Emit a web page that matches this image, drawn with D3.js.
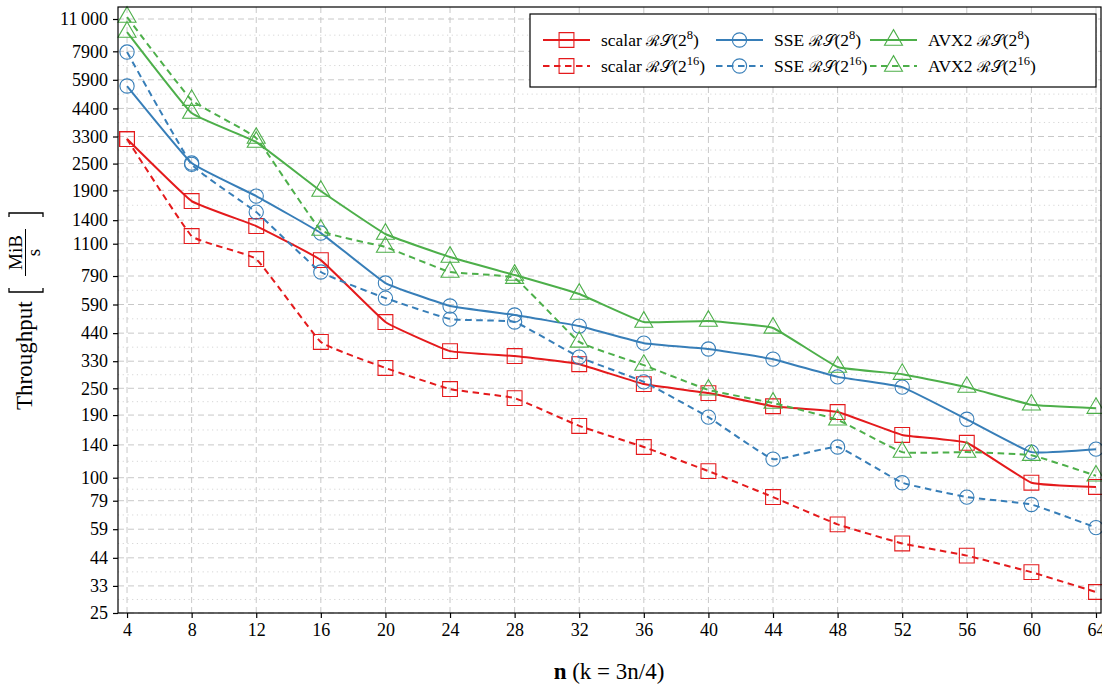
<!DOCTYPE html>
<html>
<head>
<meta charset="utf-8">
<script src="https://cdn.jsdelivr.net/npm/d3@7"></script>
<style>
  body { margin: 0; background: #fff; }
  svg { display: block; }
  text { font-family: "Liberation Serif", "DejaVu Serif", serif; fill: #000; }
</style>
</head>
<body>
<div id="wrapper"></div>
<script>
// data (MiB/s)
const nValues = [4, 8, 12, 16, 20, 24, 28, 32, 36, 40, 44, 48, 52, 56, 60, 64];
const scalarRS8  = [3215, 1703, 1318, 930, 493, 366, 348, 320, 261, 238, 208, 196, 155, 143, 95, 91];
const scalarRS16 = [3215, 1190, 940, 402, 308, 248, 226, 170, 137, 107, 82, 62, 51, 45, 38, 31];
const sseRS8     = [5535, 2514, 1792, 1227, 735, 581, 530, 473, 397, 374, 337, 281, 253, 182, 130, 134];
const sseRS16    = [7840, 2480, 1521, 823, 630, 508, 493, 344, 267, 186, 121, 137, 95, 82, 76, 60];
const avx2RS8    = [9620, 4195, 3117, 1887, 1215, 960, 798, 657, 493, 498, 464, 311, 289, 253, 211, 204];
const avx2RS16   = [11220, 4790, 3246, 1265, 1063, 823, 773, 402, 317, 246, 215, 181, 130, 130, 126, 102];

const yTicks = [25, 33, 44, 59, 79, 100, 140, 190, 250, 330, 440, 590, 790, 1100, 1400, 1900, 2500, 3300, 4400, 5900, 7900, 11000];
const xTicks = nValues;

const series = [
    {name: "scalar", exp: "8",  values: scalarRS8,  color: "#e41a1c", dashed: false, mark: "square"},
    {name: "SSE",    exp: "8",  values: sseRS8,     color: "#377eb8", dashed: false, mark: "circle"},
    {name: "AVX2",   exp: "8",  values: avx2RS8,    color: "#4daf4a", dashed: false, mark: "triangle"},
    {name: "scalar", exp: "16", values: scalarRS16, color: "#e41a1c", dashed: true,  mark: "square"},
    {name: "SSE",    exp: "16", values: sseRS16,    color: "#377eb8", dashed: true,  mark: "circle"},
    {name: "AVX2",   exp: "16", values: avx2RS16,   color: "#4daf4a", dashed: true,  mark: "triangle"}
];

const width = 1102, height = 686;
const plot = {left: 118, right: 1101, top: 7, bottom: 613};

const svg = d3.select("#wrapper").append("svg")
    .attr("width", width)
    .attr("height", height);

const xScale = d3.scaleLinear()
    .domain([3.44, 64.31])
    .range([plot.left, plot.right]);
const yScale = d3.scaleLog()
    .domain([25, 12440])
    .range([plot.bottom, plot.top]);

// grid: minor dotted lines at geometric midpoints, major dashed
const minorY = d3.pairs(yTicks).map(([a, b]) => Math.sqrt(a * b));
const grid = svg.append("g");
grid.selectAll(".minor").data(minorY).join("line")
    .attr("x1", plot.left).attr("x2", plot.right)
    .attr("y1", d => yScale(d)).attr("y2", d => yScale(d))
    .attr("stroke", "#d6d6d6").attr("stroke-width", 1)
    .attr("stroke-dasharray", "1.2,3.5");
grid.selectAll(".hmajor").data(yTicks).join("line")
    .attr("x1", plot.left).attr("x2", plot.right)
    .attr("y1", d => yScale(d)).attr("y2", d => yScale(d))
    .attr("stroke", "#c8c8c8").attr("stroke-width", 1)
    .attr("stroke-dasharray", "6,4");
grid.selectAll(".vmajor").data(xTicks).join("line")
    .attr("x1", d => xScale(d)).attr("x2", d => xScale(d))
    .attr("y1", plot.top).attr("y2", plot.bottom)
    .attr("stroke", "#c8c8c8").attr("stroke-width", 1)
    .attr("stroke-dasharray", "6,4");

// lines
const lineGenerator = d3.line()
    .x((d, i) => xScale(nValues[i]))
    .y(d => yScale(d))
    .curve(d3.curveCardinal.tension(0.7));

const symbolFor = {
    square: d3.symbol().type(d3.symbolSquare).size(220),
    circle: d3.symbol().type(d3.symbolCircle).size(160),
    triangle: d3.symbol().type(d3.symbolTriangle).size(140)
};

const lines = svg.append("g");
series.forEach(s => {
    lines.append("path")
        .attr("d", lineGenerator(s.values))
        .attr("fill", "none")
        .attr("stroke", s.color)
        .attr("stroke-width", 2)
        .attr("stroke-dasharray", s.dashed ? "6.5,4.5" : null);
    lines.selectAll(null).data(s.values).join("path")
        .attr("transform", (d, i) => `translate(${xScale(nValues[i])},${yScale(d)})`)
        .attr("d", symbolFor[s.mark]())
        .attr("fill", "none")
        .attr("stroke", s.color)
        .attr("stroke-width", 1.1);
});

// frame
svg.append("rect")
    .attr("x", plot.left).attr("y", plot.top)
    .attr("width", plot.right - plot.left).attr("height", plot.bottom - plot.top)
    .attr("fill", "none").attr("stroke", "#000").attr("stroke-width", 1.2);

// axes
const yAxis = svg.append("g")
    .attr("transform", `translate(${plot.left},0)`)
    .call(d3.axisLeft(yScale)
        .tickValues(yTicks)
        .tickFormat(d => d >= 10000 ? d3.format(",")(d).replace(",", "\u2009") : String(d))
        .tickSize(5)
        .tickSizeOuter(0)
        .tickPadding(5));
const xAxis = svg.append("g")
    .attr("transform", `translate(0,${plot.bottom})`)
    .call(d3.axisBottom(xScale)
        .tickValues(xTicks)
        .tickFormat(d3.format("d"))
        .tickSize(5)
        .tickSizeOuter(0)
        .tickPadding(5));
[xAxis, yAxis].forEach(ax => {
    ax.select(".domain").remove();
    ax.selectAll(".tick line").attr("stroke", "#000").attr("stroke-width", 1.2);
    ax.selectAll(".tick text")
        .style("font-family", "Liberation Serif")
        .style("font-size", "18px");
});

// axis labels
svg.append("text")
    .attr("x", 609).attr("y", 679)
    .attr("text-anchor", "middle")
    .style("font-size", "23px")
    .call(t => {
        t.append("tspan").attr("font-weight", "bold").text("n");
        t.append("tspan").text(" (k = 3n/4)");
    });

const yLabel = svg.append("g")
    .attr("transform", "translate(32,410) rotate(-90)");
yLabel.append("text")
    .attr("x", 0).attr("y", 0)
    .style("font-size", "23px")
    .text("Throughput");
// bracketed fraction MiB / s
const bracket = (x, dir) => `M${x + dir * 4},-23 L${x},-23 L${x},11 L${x + dir * 4},11`;
yLabel.append("path").attr("d", bracket(118, 1))
    .attr("fill", "none").attr("stroke", "#000").attr("stroke-width", 1.3);
yLabel.append("path").attr("d", bracket(197, -1))
    .attr("fill", "none").attr("stroke", "#000").attr("stroke-width", 1.3);
yLabel.append("line")
    .attr("x1", 134).attr("x2", 181).attr("y1", -6.5).attr("y2", -6.5)
    .attr("stroke", "#000").attr("stroke-width", 1);
yLabel.append("text")
    .attr("x", 157.5).attr("y", -10)
    .attr("text-anchor", "middle")
    .style("font-size", "19px")
    .text("MiB");
yLabel.append("text")
    .attr("x", 157.5).attr("y", 8)
    .attr("text-anchor", "middle")
    .style("font-size", "19px")
    .text("s");

// legend
const legend = svg.append("g");
legend.append("rect")
    .attr("x", 530).attr("y", 14).attr("width", 566).attr("height", 73)
    .attr("fill", "#fff").attr("stroke", "#000").attr("stroke-width", 1.2);
const colX = [543, 716, 870];
const rowY = [40, 66];
series.forEach((s, i) => {
    const cx = colX[i % 3], cy = rowY[Math.floor(i / 3)];
    const item = legend.append("g").attr("transform", `translate(${cx},${cy})`);
    item.append("line")
        .attr("x1", 0).attr("x2", 47).attr("y1", 0).attr("y2", 0)
        .attr("stroke", s.color).attr("stroke-width", 2)
        .attr("stroke-dasharray", s.dashed ? "6.5,4.5" : null);
    item.append("path")
        .attr("transform", "translate(23.5,0)")
        .attr("d", symbolFor[s.mark]())
        .attr("fill", "none").attr("stroke", s.color).attr("stroke-width", 1.1);
    const label = item.append("text")
        .attr("x", 58).attr("y", 6)
        .style("font-size", "17.5px");
    label.append("tspan").text(s.name + " ");
    label.append("tspan").style("font-size", "15.5px").text("\u211B\uD835\uDCAE");
    label.append("tspan").text("(2");
    label.append("tspan").attr("dy", -7).style("font-size", "12.5px").text(s.exp);
    label.append("tspan").attr("dy", 7).text(")");
});
</script>
</body>
</html>
